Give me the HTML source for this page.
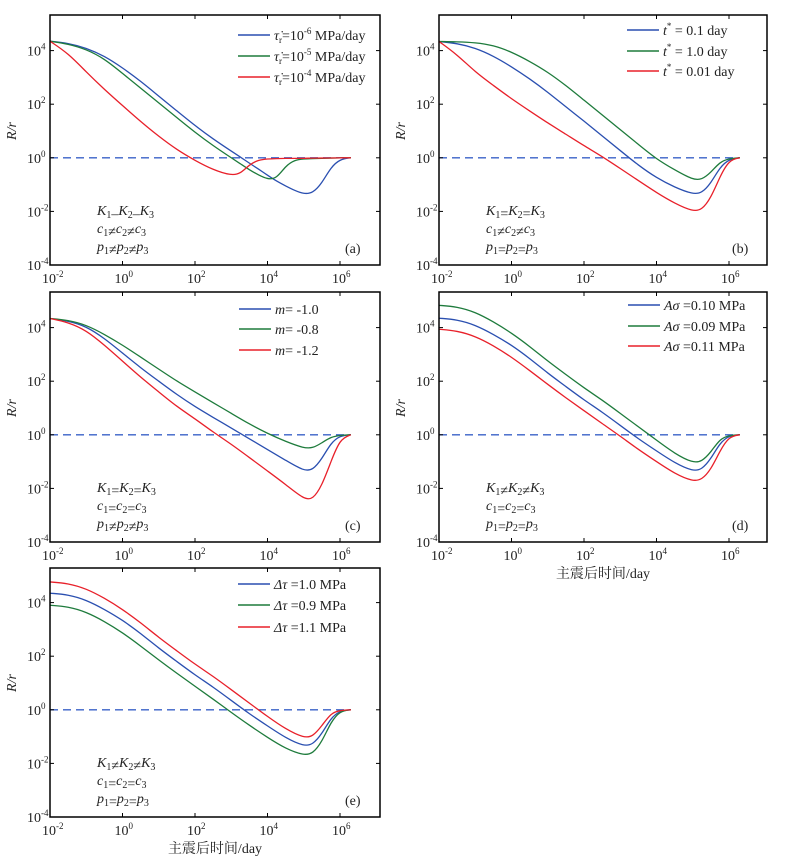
<!DOCTYPE html>
<html><head><meta charset="utf-8"><style>
html,body{margin:0;padding:0;background:#fff;}
svg{display:block;font-family:"Liberation Serif","Noto Serif CJK SC",serif;}
</style></head><body>
<svg id="fig" width="785" height="862" viewBox="0 0 785 862" xmlns="http://www.w3.org/2000/svg"></svg>
<script>
// ---- data (log10 values) ----
const xTicks = [-2, 0, 2, 4, 6];
const yTicks = [-4, -2, 0, 2, 4];
const gridA = [-2,-1.5,-1,-0.5,0,0.5,1,1.5,2,2.5,3,3.25,3.5,3.75,4,4.25,4.5,4.75,5,5.25,5.5,5.75,6,6.3];
const grid = [-2,-1.5,-1,-0.5,0,0.5,1,1.5,2,2.5,3,3.5,4,4.5,5,5.25,5.5,5.75,6,6.3];
const aBlue = [4.35,4.28,4.1,3.8,3.36,2.86,2.3,1.75,1.2,0.7,0.25,0.03,-0.2,-0.42,-0.65,-0.87,-1.05,-1.22,-1.35,-1.32,-0.95,-0.35,-0.05,0];
const aGreen = [4.35,4.25,4.05,3.7,3.15,2.6,2.05,1.5,0.95,0.45,0.0,-0.22,-0.45,-0.64,-0.8,-0.78,-0.3,-0.08,-0.04,-0.03,-0.02,-0.01,0,0];
const aRed = [4.35,3.9,3.2,2.55,1.95,1.35,0.8,0.3,-0.1,-0.45,-0.66,-0.6,-0.25,-0.08,-0.04,-0.03,-0.02,-0.02,-0.02,-0.01,-0.01,-0.01,0,0];
const bBlue = [4.34,4.27,4.1,3.8,3.4,2.95,2.45,1.9,1.37,0.82,0.27,-0.28,-0.75,-1.1,-1.36,-1.32,-0.95,-0.35,-0.05,0];
const bGreen = [4.34,4.33,4.3,4.2,3.95,3.6,3.2,2.7,2.15,1.6,1.05,0.5,-0.05,-0.45,-0.82,-0.82,-0.55,-0.15,-0.03,0];
const bRed = [4.34,3.85,3.2,2.7,2.2,1.75,1.3,0.88,0.45,0.05,-0.4,-0.85,-1.3,-1.7,-2.0,-1.95,-1.5,-0.7,-0.08,0];
const cBlue = [4.34,4.25,4.05,3.6,3.05,2.5,2.0,1.5,1.05,0.65,0.25,-0.15,-0.55,-0.95,-1.35,-1.32,-0.9,-0.3,-0.03,0];
const cGreen = [4.34,4.28,4.1,3.75,3.35,2.9,2.45,2.0,1.6,1.2,0.8,0.4,0.05,-0.25,-0.5,-0.5,-0.3,-0.08,-0.02,0];
const cRed = [4.34,4.2,3.9,3.35,2.75,2.15,1.6,1.05,0.6,0.1,-0.35,-0.85,-1.35,-1.85,-2.4,-2.42,-1.9,-1.0,-0.15,0];
const dBlue = [4.35,4.3,4.1,3.75,3.35,2.85,2.3,1.8,1.3,0.85,0.35,-0.15,-0.6,-1.05,-1.36,-1.3,-0.9,-0.3,-0.03,0];
const dGreen = [4.83,4.78,4.58,4.22,3.8,3.3,2.75,2.25,1.75,1.3,0.8,0.3,-0.2,-0.7,-1.05,-1.0,-0.65,-0.15,-0.02,0];
const dRed = [3.94,3.88,3.68,3.33,2.9,2.4,1.88,1.38,0.9,0.42,-0.05,-0.55,-1.0,-1.45,-1.74,-1.68,-1.3,-0.6,-0.06,0];
const eBlue = [4.35,4.3,4.1,3.75,3.35,2.85,2.3,1.8,1.3,0.85,0.35,-0.15,-0.6,-1.05,-1.36,-1.3,-0.9,-0.3,-0.03,0];
const eGreen = [3.9,3.85,3.65,3.3,2.88,2.38,1.86,1.36,0.88,0.4,-0.1,-0.58,-1.03,-1.45,-1.7,-1.64,-1.2,-0.45,-0.04,0];
const eRed = [4.77,4.72,4.52,4.17,3.75,3.25,2.7,2.2,1.7,1.25,0.75,0.25,-0.25,-0.72,-1.05,-1.0,-0.6,-0.12,-0.02,0];
const refLevel = 0;

const BLUE="#2a4fb0", GREEN="#1e7b3c", RED="#e8202a";
const NS="http://www.w3.org/2000/svg";
const svg=document.getElementById('fig');
function mk(tag,attrs,parent){const e=document.createElementNS(NS,tag);for(const k in attrs)e.setAttribute(k,attrs[k]);(parent||svg).appendChild(e);return e;}

const panels=[
 {id:'a',left:50,right:380,top:15,bottom:265,x:gridA,series:[[aBlue,BLUE],[aGreen,GREEN],[aRed,RED]],
  leg:{x:238,y:[35,56,77],t:[['τ̇','r','=10','-6',' MPa/day'],['τ̇','r','=10','-5',' MPa/day'],['τ̇','r','=10','-4',' MPa/day']]},
  note:[['K','1','–','K','2','–','K','3'],['c','1','≠','c','2','≠','c','3'],['p','1','≠','p','2','≠','p','3']],xlab:false},
 {id:'b',left:439,right:767,top:15,bottom:265,x:grid,series:[[bBlue,BLUE],[bGreen,GREEN],[bRed,RED]],
  leg:{x:627,y:[30,51,71],t:['t* = 0.1 day','t* = 1.0 day','t* = 0.01 day']},
  note:[['K','1','=','K','2','=','K','3'],['c','1','≠','c','2','≠','c','3'],['p','1','=','p','2','=','p','3']],xlab:false},
 {id:'c',left:50,right:380,top:292,bottom:542,x:grid,series:[[cBlue,BLUE],[cGreen,GREEN],[cRed,RED]],
  leg:{x:239,y:[309,329,350],t:['m= -1.0','m= -0.8','m= -1.2']},
  note:[['K','1','=','K','2','=','K','3'],['c','1','=','c','2','=','c','3'],['p','1','≠','p','2','≠','p','3']],xlab:false},
 {id:'d',left:439,right:767,top:292,bottom:542,x:grid,series:[[dBlue,BLUE],[dGreen,GREEN],[dRed,RED]],
  leg:{x:628,y:[305,326,346],t:['Aσ =0.10 MPa','Aσ =0.09 MPa','Aσ =0.11 MPa']},
  note:[['K','1','≠','K','2','≠','K','3'],['c','1','=','c','2','=','c','3'],['p','1','=','p','2','=','p','3']],xlab:true},
 {id:'e',left:50,right:380,top:568,bottom:817,x:grid,series:[[eBlue,BLUE],[eGreen,GREEN],[eRed,RED]],
  leg:{x:238,y:[584,605,627],t:['Δτ =1.0 MPa','Δτ =0.9 MPa','Δτ =1.1 MPa']},
  note:[['K','1','≠','K','2','≠','K','3'],['c','1','=','c','2','=','c','3'],['p','1','=','p','2','=','p','3']],xlab:true}
];

// uniform cubic B-spline through control points (smooth approximation)
function bspline(pts){
  const P=[pts[0],pts[0],...pts,pts[pts.length-1],pts[pts.length-1]];
  const f=v=>v.toFixed(2);
  let d='';
  for(let i=0;i<P.length-3;i++){
    const p0=P[i],p1=P[i+1],p2=P[i+2],p3=P[i+3];
    const s=[(p0[0]+4*p1[0]+p2[0])/6,(p0[1]+4*p1[1]+p2[1])/6];
    const c1=[(2*p1[0]+p2[0])/3,(2*p1[1]+p2[1])/3];
    const c2=[(p1[0]+2*p2[0])/3,(p1[1]+2*p2[1])/3];
    const e=[(p1[0]+4*p2[0]+p3[0])/6,(p1[1]+4*p2[1]+p3[1])/6];
    if(i===0)d+=`M${f(s[0])},${f(s[1])}`;
    d+=` C${f(c1[0])},${f(c1[1])} ${f(c2[0])},${f(c2[1])} ${f(e[0])},${f(e[1])}`;
  }
  return d;
}

panels.forEach(P=>{
  const g=mk('g',{});
  
  
  const xMin=-2,xMax=-2+(P.right-P.left)/36.25;
  const yMin=-4,yMax=-4+(P.bottom-P.top)/26.8;
  const sx=v=>P.left+(v-xMin)/(xMax-xMin)*(P.right-P.left);
  const sy=v=>P.bottom-(v-yMin)/(yMax-yMin)*(P.bottom-P.top);
  const clipId='clip'+P.id;
  const cp=mk('clipPath',{id:clipId},g);
  mk('rect',{x:P.left,y:P.top,width:P.right-P.left,height:P.bottom-P.top},cp);
  const ref=mk('line',{x1:sx(-2),x2:sx(6.3),y1:sy(refLevel),y2:sy(refLevel),stroke:"#3a62c8","stroke-width":1.4,"stroke-dasharray":"8,5"},g);
  
  
  const names=['blue','green','red'];
  P.series.forEach((s,i)=>{
    const pts=P.x.map((xv,j)=>[sx(xv),sy(s[0][j])]);
    const path=mk('path',{d:bspline(pts),fill:'none',stroke:s[1],'stroke-width':1.3,'clip-path':`url(#${clipId})`},g);
    
    
  });
  const fr=mk('rect',{x:P.left,y:P.top,width:P.right-P.left,height:P.bottom-P.top,fill:'none',stroke:'#000','stroke-width':1.5},g);
  
  
  xTicks.forEach(t=>{
    const x=sx(t);
    mk('line',{x1:x,x2:x,y1:P.bottom,y2:P.bottom-4,stroke:'#000','stroke-width':1},g);
    mk('line',{x1:x,x2:x,y1:P.top,y2:P.top+4,stroke:'#000','stroke-width':1},g);
    const tx=mk('text',{x:x-8,y:P.bottom+18,'font-size':14,fill:'#222'},g);
    
    
    tx.textContent='10';
    const sp=mk('tspan',{dy:-6,'font-size':9},tx); sp.textContent=String(t);
  });
  yTicks.forEach(t=>{
    const y=sy(t);
    mk('line',{x1:P.left,x2:P.left+4,y1:y,y2:y,stroke:'#000','stroke-width':1},g);
    mk('line',{x1:P.right,x2:P.right-4,y1:y,y2:y,stroke:'#000','stroke-width':1},g);
    const tx=mk('text',{x:P.left-23,y:y+5,'font-size':14,fill:'#222'},g);
    
    
    tx.textContent='10';
    const sp=mk('tspan',{dy:-6,'font-size':9},tx); sp.textContent=String(t);
  });
  const yc=sy(1);
  const yt=mk('text',{x:0,y:0,'font-size':14,'font-style':'italic',fill:'#222','text-anchor':'middle',transform:`translate(${P.left-34},${yc}) rotate(-90)`},g);
  
  
  yt.textContent='R/r';
  P.leg.y.forEach((ly,i)=>{
    const lg=mk('g',{},g);
    
    
    mk('line',{x1:P.leg.x,x2:P.leg.x+32,y1:ly,y2:ly,stroke:P.series[i][1],'stroke-width':1.5},lg);
    const t=mk('text',{x:P.leg.x+36,y:ly+5,'font-size':14,fill:'#222'},lg);
    const L=P.leg.t[i];
    if(Array.isArray(L)){
      const a=mk('tspan',{'font-style':'italic'},t);a.textContent=L[0];
      const b=mk('tspan',{'font-size':9,dy:3},t);b.textContent=L[1];
      const c=mk('tspan',{dy:-3},t);c.textContent=L[2];
      const d=mk('tspan',{'font-size':9,dy:-6},t);d.textContent=L[3];
      const e=mk('tspan',{dy:6},t);e.textContent=L[4];
    } else {
      const first=L.split(/[ =*]/)[0];
      const a=mk('tspan',{'font-style':'italic'},t);a.textContent=first;
      const rest=L.slice(first.length);
      if(rest.startsWith('*')){
        const s=mk('tspan',{'font-size':9,dy:-6},t);s.textContent='*';
        const r=mk('tspan',{dy:6},t);r.textContent=rest.slice(1);
      } else {const r=mk('tspan',{},t);r.textContent=rest;}
    }
  });
  const ny=[P.bottom-50,P.bottom-32,P.bottom-14];
  P.note.forEach((n,i)=>{
    const t=mk('text',{x:P.left+47,y:ny[i],'font-size':14,fill:'#222'},g);
    
    
    for(let k=0;k<n.length;k+=3){
      const a=mk('tspan',{'font-style':'italic',dy:k===0?0:-3},t);a.textContent=n[k];
      const b=mk('tspan',{'font-size':10,dy:3},t);b.textContent=n[k+1];
      if(k+2<n.length){const c=mk('tspan',{dy:0},t);c.textContent=n[k+2];}
    }
  });
  const pl=mk('text',{x:P.right-35,y:P.bottom-12,'font-size':14,fill:'#222'},g);
  
  
  pl.textContent='('+P.id+')';
  if(P.xlab){
    const xl=mk('text',{x:(P.left+P.right)/2,y:P.bottom+36,'font-size':14,fill:'#222','text-anchor':'middle'},g);
    
    
    xl.textContent='主震后时间/day';
  }
});
</script>
</body></html>
